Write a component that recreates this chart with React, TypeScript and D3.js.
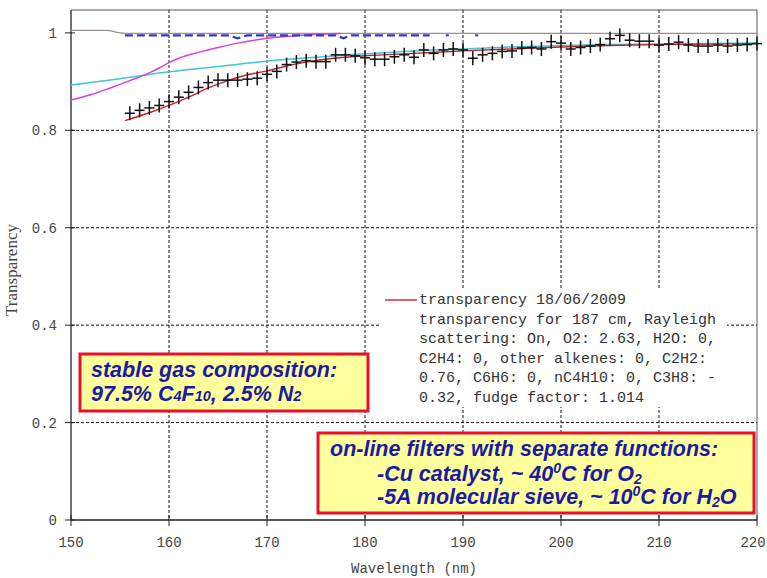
import { useEffect, useRef } from "react";
import * as d3 from "d3";

// axis ticks
const xTicks = [150, 160, 170, 180, 190, 200, 210, 220];
const yTicks = [0, 0.2, 0.4, 0.6, 0.8, 1];
const yTickLabels = ["0", "0.2", "0.4", "0.6", "0.8", "1"];

// thin grey reference line near 1
const greyNm = [150, 153.5, 155.5, 220];
const greyVal = [1.005, 1.005, 0.999, 0.999];

// blue dashed curve
const blueNm = [155.5, 166, 167, 168, 177, 177.8, 178.6, 186.6];
const blueVal = [0.995, 0.995, 0.989, 0.995, 0.995, 0.989, 0.995, 0.995];
const blueDotsNm = [188.4, 191.4];

// magenta curve
const magentaNm = [150, 152, 154, 156, 158, 159, 160, 161, 163, 165, 167, 169, 171, 173, 175, 177.5];
const magentaVal = [0.862, 0.873, 0.887, 0.902, 0.918, 0.928, 0.939, 0.948, 0.96, 0.97, 0.979, 0.986, 0.991, 0.994, 0.997, 0.999];

// cyan curve
const cyanNm = [150, 155, 160, 165, 170, 175, 180, 185, 190, 195, 200, 205, 210, 215, 220];
const cyanVal = [0.893, 0.906, 0.92, 0.931, 0.942, 0.95, 0.957, 0.963, 0.967, 0.971, 0.974, 0.976, 0.977, 0.978, 0.979];

// red fit: transparency 18/06/2009
const redNm = [155.5, 158, 160, 162, 164, 166, 168, 170, 172, 174, 176, 178, 180, 185, 190, 195, 200, 205, 210, 215, 220];
const redVal = [0.82, 0.836, 0.851, 0.868, 0.887, 0.902, 0.914, 0.922, 0.932, 0.94, 0.946, 0.95, 0.953, 0.958, 0.963, 0.967, 0.971, 0.974, 0.976, 0.977, 0.978];

// measured points (crosses)
const crossNm = [156, 157, 158, 159, 160, 161, 162, 163, 164, 165, 166, 167, 168, 169, 170, 171, 172, 173, 174, 175, 176, 177, 178, 179, 180, 181, 182, 183, 184, 185, 186, 187, 188, 189, 190, 191, 192, 193, 194, 195, 196, 197, 198, 199, 200, 201, 202, 203, 204, 205, 206, 207, 208, 209, 210, 211, 212, 213, 214, 215, 216, 217, 218, 219, 220];
const crossVal = [0.835, 0.841, 0.846, 0.851, 0.859, 0.868, 0.878, 0.888, 0.898, 0.903, 0.903, 0.903, 0.905, 0.907, 0.915, 0.921, 0.935, 0.94, 0.943, 0.941, 0.941, 0.955, 0.955, 0.953, 0.949, 0.946, 0.946, 0.951, 0.955, 0.95, 0.965, 0.958, 0.965, 0.967, 0.965, 0.948, 0.955, 0.958, 0.962, 0.963, 0.969, 0.97, 0.967, 0.982, 0.979, 0.967, 0.97, 0.973, 0.976, 0.988, 0.995, 0.985, 0.983, 0.983, 0.975, 0.977, 0.981, 0.975, 0.973, 0.973, 0.975, 0.973, 0.975, 0.976, 0.978];

const legendLines = [
  "transparency 18/06/2009",
  "transparency for 187 cm, Rayleigh",
  "scattering: On, O2: 2.63, H2O: 0,",
  "C2H4: 0, other alkenes: 0, C2H2:",
  "0.76, C6H6: 0, nC4H10: 0, C3H8: -",
  "0.32, fudge factor: 1.014",
];

const MONO = "'Liberation Mono', 'Courier New', monospace";
const SANS = "'Liberation Sans', Arial, sans-serif";
const BLUE_TEXT = "#1a1aa6";

const App = () => {
  const ref = useRef<SVGSVGElement>(null);

  useEffect(() => {
    const svg = d3.select(ref.current);
    svg.selectAll("*").remove();

    const x = d3.scaleLinear().domain([150, 220]).range([71, 757]);
    const y = d3.scaleLinear().domain([0, 1.047]).range([520, 10]);
    const top = y(1.047);
    const bottom = y(0);

    svg.append("rect").attr("width", 767).attr("height", 578).attr("fill", "#fff");

    // grid
    const grid = svg.append("g").attr("stroke", "#111").attr("stroke-width", 1).attr("stroke-dasharray", "3,2");
    xTicks.slice(1, -1).forEach((t) => {
      grid.append("line").attr("x1", x(t)).attr("x2", x(t)).attr("y1", top).attr("y2", bottom);
    });
    yTicks.slice(1, -1).forEach((t) => {
      grid.append("line").attr("x1", x(150)).attr("x2", x(220)).attr("y1", y(t)).attr("y2", y(t));
    });

    // frame
    svg.append("line").attr("x1", x(150)).attr("x2", x(220)).attr("y1", top).attr("y2", top).attr("stroke", "#555");
    svg.append("line").attr("x1", x(220)).attr("x2", x(220)).attr("y1", top).attr("y2", bottom).attr("stroke", "#555");
    svg.append("line").attr("x1", x(150)).attr("x2", x(150)).attr("y1", top).attr("y2", bottom).attr("stroke", "#222").attr("stroke-width", 1.3);
    svg.append("line").attr("x1", x(150)).attr("x2", x(220)).attr("y1", bottom).attr("y2", bottom).attr("stroke", "#222").attr("stroke-width", 1.3);

    // ticks + labels
    xTicks.forEach((t) => {
      svg.append("line").attr("x1", x(t)).attr("x2", x(t)).attr("y1", bottom - 5).attr("y2", bottom + 6).attr("stroke", "#222");
      svg.append("text").attr("x", Math.min(x(t), 753)).attr("y", bottom + 27).attr("text-anchor", "middle")
        .attr("font-family", MONO).attr("font-size", 14).attr("fill", "#444").text(t);
    });
    yTicks.forEach((t, i) => {
      svg.append("line").attr("x1", x(150) - 6).attr("x2", x(150) + 4).attr("y1", y(t)).attr("y2", y(t)).attr("stroke", "#222");
      svg.append("text").attr("x", 57).attr("y", y(t) + 5).attr("text-anchor", "end")
        .attr("font-family", MONO).attr("font-size", 14).attr("fill", "#444").text(yTickLabels[i]);
    });

    svg.append("text").attr("x", 414).attr("y", 573).attr("text-anchor", "middle")
      .attr("font-family", MONO).attr("font-size", 14).attr("fill", "#444").text("Wavelength (nm)");
    svg.append("text").attr("transform", "translate(17, 270) rotate(-90)").attr("text-anchor", "middle")
      .attr("font-family", "'Liberation Serif', 'Times New Roman', serif").attr("font-size", 17).attr("fill", "#444")
      .text("Transparency");

    const line = (xs: number[], ys: number[]) =>
      d3.line<number>().x((d) => x(d)).y((_, i) => y(ys[i])).curve(d3.curveMonotoneX)(xs);

    // series
    svg.append("path").attr("d", line(greyNm, greyVal)).attr("fill", "none").attr("stroke", "#9a8f8f").attr("stroke-width", 1.2);
    svg.append("path").attr("d", line(cyanNm, cyanVal)).attr("fill", "none").attr("stroke", "#3cc6d6").attr("stroke-width", 1.5);
    svg.append("path").attr("d", line(magentaNm, magentaVal)).attr("fill", "none").attr("stroke", "#dd3ddd").attr("stroke-width", 1.5);
    svg.append("path").attr("d", d3.line<number>().x((d) => x(d)).y((_, i) => y(blueVal[i]))(blueNm))
      .attr("fill", "none").attr("stroke", "#3636c8").attr("stroke-width", 2.2).attr("stroke-dasharray", "8,4");
    blueDotsNm.forEach((n) => {
      svg.append("rect").attr("x", x(n) - 1.5).attr("y", y(0.995) - 1).attr("width", 3).attr("height", 2).attr("fill", "#3636c8");
    });
    svg.append("path").attr("d", line(redNm, redVal)).attr("fill", "none").attr("stroke", "#c8202a").attr("stroke-width", 1.4);

    const crosses = svg.append("g").attr("stroke", "#111").attr("stroke-width", 1.5);
    crossNm.forEach((n, i) => {
      const cx = x(n);
      const cy = y(crossVal[i]);
      crosses.append("line").attr("x1", cx).attr("x2", cx).attr("y1", cy - 7).attr("y2", cy + 7);
      crosses.append("line").attr("x1", cx - 5).attr("x2", cx + 5).attr("y1", cy).attr("y2", cy);
    });

    // legend
    svg.append("rect").attr("x", 381).attr("y", 289).attr("width", 346).attr("height", 118).attr("fill", "#fff");
    svg.append("line").attr("x1", 385).attr("x2", 417).attr("y1", 300).attr("y2", 300).attr("stroke", "#c8202a").attr("stroke-width", 1.4);
    legendLines.forEach((l, i) => {
      svg.append("text").attr("x", 419).attr("y", 304 + i * 19.5).attr("font-family", MONO).attr("font-size", 15)
        .attr("fill", "#333").attr("xml:space", "preserve").text(l);
    });

    // annotation boxes
    const box = (bx: number, by: number, bw: number, bh: number) =>
      svg.append("rect").attr("x", bx).attr("y", by).attr("width", bw).attr("height", bh)
        .attr("fill", "#ffff9c").attr("stroke", "#e8102a").attr("stroke-width", 3);
    const rich = (tx: number, ty: number, parts: [string, string?][]) => {
      const t = svg.append("text").attr("x", tx).attr("y", ty).attr("font-family", SANS).attr("font-size", 21.5)
        .attr("font-weight", "bold").attr("font-style", "italic").attr("fill", BLUE_TEXT).attr("xml:space", "preserve");
      parts.forEach(([s, kind]) => {
        const sp = t.append("tspan").text(s);
        if (kind === "sub") sp.attr("font-size", 14).attr("dy", 3);
        if (kind === "low") sp.attr("font-size", 14.5);
        if (kind === "sup") sp.attr("font-size", 14).attr("dy", -8);
        if (kind === "back") sp.attr("dy", -3);
        if (kind === "down") sp.attr("dy", 8);
      });
    };

    box(80, 354, 288, 57);
    rich(91, 377, [["stable gas composition:"]]);
    rich(91, 401, [["97.5% C"], ["4", "low"], ["F"], ["10", "low"], [", 2.5% N"], ["2", "low"]]);

    box(318, 433, 436, 80);
    rich(330, 456, [["on-line filters with separate functions:"]]);
    rich(377, 481, [["-Cu catalyst, ~ 40"], ["0", "sup"], ["C for O", "down"], ["2", "sub"]]);
    rich(377, 504, [["-5A molecular sieve, ~ 10"], ["0", "sup"], ["C for H", "down"], ["2", "sub"], ["O", "back"]]);
  }, []);

  return <svg ref={ref} width={767} height={578} style={{ position: "absolute", left: 0, top: 0 }} />;
};

export default App;
